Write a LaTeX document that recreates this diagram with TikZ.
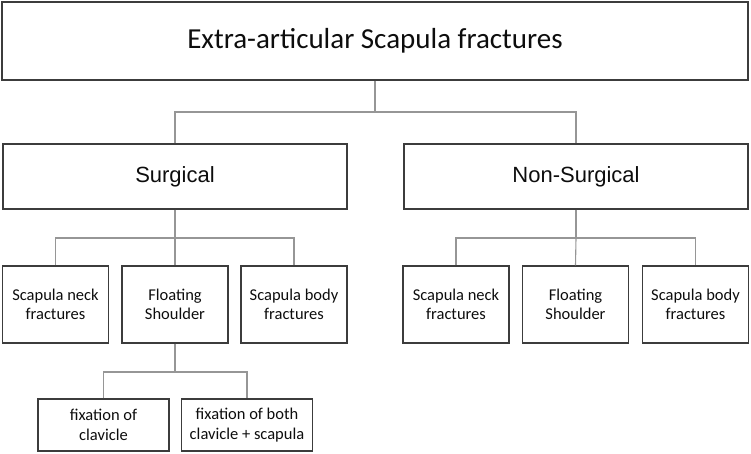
\documentclass[tikz,border=0pt]{standalone}
\usepackage{fontspec}
\setmainfont{Carlito}
\newfontfamily\arialfont{Liberation Sans}
\definecolor{boxline}{HTML}{3C3C3C}
\definecolor{linkline}{HTML}{969696}
\definecolor{txt}{HTML}{0D0D0D}
\begin{document}
\begin{tikzpicture}[x=1pt, y=-1pt, every node/.style={text=txt},
  box/.style={draw=boxline,line width=1.4pt,inner sep=0pt,align=center},
  leaf/.style={box,minimum width=106pt,minimum height=77pt,font=\fontsize{16.5}{19.5}\selectfont},
  fix/.style={box,minimum width=131pt,minimum height=52pt,font=\fontsize{16.5}{19.5}\selectfont},
  link/.style={draw=linkline,line width=1.1pt}]
  \useasboundingbox (0,0) rectangle (751,454);
  \node[box,minimum width=746pt,minimum height=78pt,font=\fontsize{29}{34}\selectfont] (top) at (375,41) {Extra-articular Scapula fractures};
  \node[box,minimum width=344pt,minimum height=65pt,font=\arialfont\fontsize{22}{26}\selectfont] (surg) at (175,176.5) {Surgical};
  \node[box,minimum width=344pt,minimum height=65pt,font=\arialfont\fontsize{22}{26}\selectfont] (nons) at (576,176.5) {Non-Surgical};
  % surgical branch
  \node[leaf] (sneck) at (55.5,304.5) {Scapula neck\\fractures};
  \node[leaf] (sfloat) at (175,304.5) {Floating\\Shoulder};
  \node[leaf] (sbody) at (294,304.5) {Scapula body\\fractures};
  % non-surgical branch
  \node[leaf] (nneck) at (456,304.5) {Scapula neck\\fractures};
  \node[leaf] (nfloat) at (575.5,304.5) {Floating\\Shoulder};
  \node[leaf] (nbody) at (695.5,304.5) {Scapula body\\fractures};
  % fixation options
  \node[fix] (fclav) at (103.5,425) {fixation of\\clavicle};
  \node[fix] (fboth) at (247,425) {fixation of both\\clavicle + scapula};
  % connectors
  \coordinate (j0) at (375,112); \coordinate (j1) at (175,238);
  \coordinate (j2) at (576,238); \coordinate (j3) at (175,372);
  \draw[link] (top.south) -- (j0); \draw[link] (surg.north) |- (j0) -| (nons.north);
  \draw[link] (surg.south) -- (sfloat.north); \draw[link] (sneck.north) |- (j1) -| (sbody.north);
  \draw[link] (nons.south) -- (j2); \draw[link] (nneck.north) |- (j2) -| (nbody.north);
  \draw[link] (j2) -- (nfloat.north);
  \draw[link] (sfloat.south) -- (j3); \draw[link] (fclav.north) |- (j3) -| (fboth.north);
\end{tikzpicture}
\end{document}
